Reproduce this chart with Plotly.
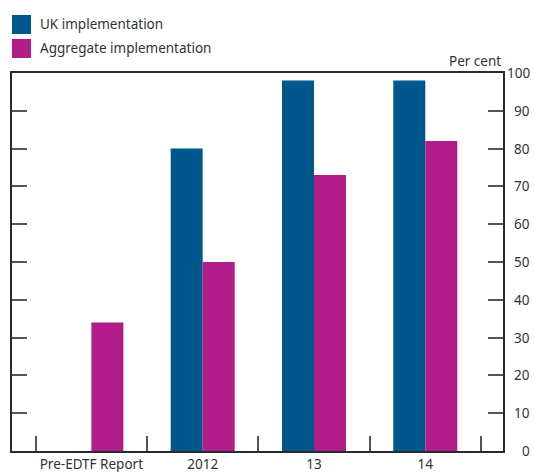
import plotly.graph_objects as go

categories = ["Pre-EDTF Report", "2012", "13", "14"]
uk_values = [None, 80, 98, 98]
aggregate_values = [34, 50, 73, 82]
y_ticks = [0, 10, 20, 30, 40, 50, 60, 70, 80, 90, 100]
series_names = ["UK implementation", "Aggregate implementation"]

BLUE = "#00578C"
MAGENTA = "#B11C88"
TEXT = "#333333"
FONT = "Noto Sans"
FS = 13.5

W, H = 534, 472
L, R, T, B = 12, 31, 73, 21
PW, PH = W - L - R, H - T - B


def px_x(p):
    return (p - L) / PW


def px_y(p):
    return (H - B - p) / PH


fig = go.Figure()
fig.add_trace(go.Bar(x=categories, y=uk_values, name=series_names[0],
                     marker=dict(color=BLUE, line=dict(width=0)), showlegend=False))
fig.add_trace(go.Bar(x=categories, y=aggregate_values, name=series_names[1],
                     marker=dict(color=MAGENTA, line=dict(width=0)), showlegend=False))

fig.update_layout(
    width=W, height=H,
    margin=dict(l=L, r=R, t=T, b=B, pad=0, autoexpand=False),
    paper_bgcolor="white", plot_bgcolor="white",
    barmode="group", bargap=0.425, bargroupgap=0,
    font=dict(family=FONT, size=FS, color=TEXT),
    showlegend=False,
)
fig.update_xaxes(
    type="category", range=[-0.713, 3.698], automargin=False, tickangle=0,
    showline=True, linecolor="#2a2a2a", linewidth=1.5, mirror=True,
    ticks="inside", ticklen=15, tickwidth=1.5, tickcolor="#555555",
    tickson="boundaries", showgrid=False, zeroline=False,
    tickfont=dict(family=FONT, size=FS, color=TEXT),
)
fig.update_yaxes(
    range=[0, 100], side="right", tickvals=y_ticks, automargin=False,
    showline=True, linecolor="#2a2a2a", linewidth=1.5, mirror="ticks",
    ticks="inside", ticklen=15, tickwidth=1.5, tickcolor="#555555",
    showgrid=False, zeroline=False, showticklabels=False,
)

annotations = []
for v in y_ticks:
    annotations.append(dict(x=1, xref="paper", y=v, yref="y", text=str(v),
                            xanchor="right", yanchor="middle", xshift=532 - (W - R),
                            showarrow=False, font=dict(family=FONT, size=FS, color=TEXT)))
annotations.append(dict(x=px_x(503), xref="paper", y=px_y(61), yref="paper", text="Per cent",
                        xanchor="right", yanchor="middle", showarrow=False,
                        font=dict(family=FONT, size=FS, color=TEXT)))

shapes = []
legend_rows = [(series_names[0], BLUE, 15), (series_names[1], MAGENTA, 39)]
for name, col, top in legend_rows:
    shapes.append(dict(type="rect", xref="paper", yref="paper",
                       x0=px_x(12), x1=px_x(31), y0=px_y(top + 19), y1=px_y(top),
                       fillcolor=col, line=dict(width=0)))
    annotations.append(dict(x=px_x(38), xref="paper", y=px_y(top + 9.5), yref="paper",
                            text=name, xanchor="left", yanchor="middle", showarrow=False,
                            font=dict(family=FONT, size=FS, color=TEXT)))

fig.update_layout(annotations=annotations, shapes=shapes)
fig.write_html(
    "out.html",
    config={"displayModeBar": False},
    post_script="document.body.style.margin='0';document.body.style.overflow='hidden';",
)
